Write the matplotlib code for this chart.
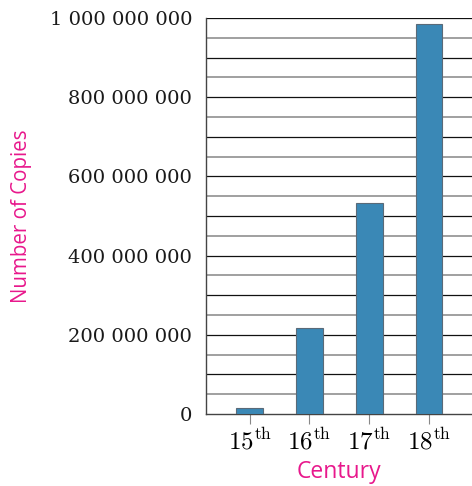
import matplotlib
matplotlib.use("Agg")
import matplotlib.pyplot as plt
import numpy as np

centuries = ["15", "16", "17", "18"]
copies = [15e6, 217e6, 533e6, 985e6]

plt.rcParams['mathtext.fontset'] = 'cm'
pink = '#e8188c'

fig = plt.figure(figsize=(4.72, 4.86), dpi=100)
ax = fig.add_axes([206/472, 1-414/486, 1-206/472, 396/486])

x = np.arange(len(centuries))

# grid: every 100M dark, the 50M in-between ones gray
for v in np.arange(50e6, 1000e6 + 1, 50e6):
    if round(v / 50e6) % 2 == 0:
        ax.axhline(v, color='#111111', lw=0.9, zorder=1)
    else:
        ax.axhline(v, color='#a0a0a0', lw=1.4, zorder=1)

ax.bar(x, copies, width=0.45, color='#3a88b6', edgecolor='#5a6a78',
       linewidth=0.8, zorder=3)

ax.set_xlim(-0.73, 3.72)
ax.set_ylim(0, 1e9)

ax.set_xticks(x)
ax.set_xticklabels([r'$%s^{\mathrm{th}}$' % c for c in centuries], fontsize=18)
yt = np.arange(0, 1e9 + 1, 200e6)
ax.set_yticks(yt)
ax.set_yticklabels(['{:,}'.format(int(v)).replace(',', ' ') for v in yt],
                   fontsize=14, family='DejaVu Serif', color='#1a1a1a')
ax.tick_params(axis='y', length=0, pad=10)
ax.tick_params(axis='x', length=7, color='#888888', pad=3)

for s in ['top', 'right']:
    ax.spines[s].set_visible(False)
for s in ['left', 'bottom']:
    ax.spines[s].set_color('#444444')
    ax.spines[s].set_linewidth(1.0)

ax.set_xlabel('Century', color=pink, fontsize=16.5, family='Open Sans', labelpad=4)
ax.set_ylabel('Number of Copies', color=pink, fontsize=14.8, family='Open Sans')
ax.yaxis.set_label_coords((32 - 206) / 266, 0.5)

fig.savefig('out.png', dpi=100)
